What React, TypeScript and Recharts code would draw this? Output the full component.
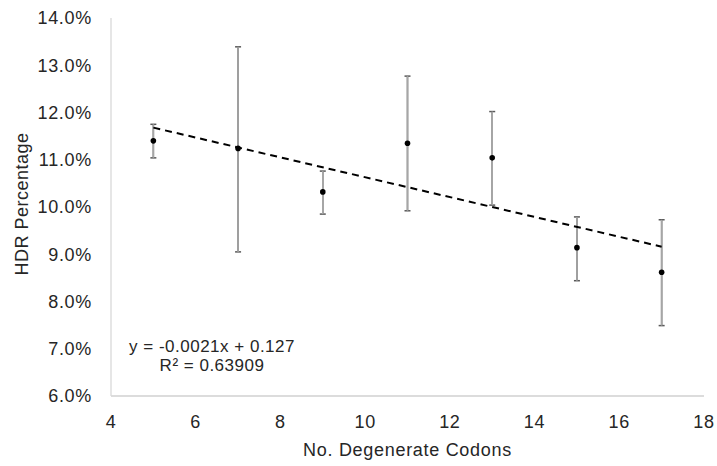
import React from 'react';
import { ComposedChart, Scatter, XAxis, YAxis, ErrorBar } from 'recharts';

const codons = [5, 7, 9, 11, 13, 15, 17];
const hdrMean = [11.4, 11.24, 10.32, 11.35, 11.04, 9.14, 8.62];
const hdrLow = [11.04, 9.05, 9.85, 9.92, 10.04, 8.44, 7.49];
const hdrHigh = [11.75, 13.39, 10.76, 12.77, 12.02, 9.79, 9.73];
const trendX = [5, 17];
const trendY = [11.68, 9.16];
const xTicks = [4, 6, 8, 10, 12, 14, 16, 18];
const yTicks = [6, 7, 8, 9, 10, 11, 12, 13, 14];
const xLabel = 'No. Degenerate Codons';
const yLabel = 'HDR Percentage';
const eqLine1 = 'y = -0.0021x + 0.127';
const eqLine2 = 'R² = 0.63909';

const points = codons.map((x, i) => ({
  x,
  y: hdrMean[i],
  err: [hdrMean[i] - hdrLow[i], hdrHigh[i] - hdrMean[i]],
}));
const trend = trendX.map((x, i) => ({ x, y: trendY[i] }));

const FONT = '"Liberation Sans", Arial, Helvetica, sans-serif';
const tickStyle = { fill: '#262626', fontSize: 18, fontFamily: FONT, letterSpacing: 0.7 };

const Dot = (props: any) => {
  const { cx, cy } = props;
  if (cx == null || cy == null) return <g />;
  return <circle cx={cx} cy={cy} r={2.8} fill="#000" />;
};

export default function App() {
  return (
    <div style={{ position: 'absolute', left: 0, top: 0, width: 717, height: 466, background: '#fff', fontFamily: FONT }}>
      <ComposedChart width={717} height={466} margin={{ top: 18, right: 13, bottom: 30, left: 21 }}>
        <XAxis
          type="number"
          dataKey="x"
          domain={[4, 18]}
          ticks={xTicks}
          tickLine={false}
          tickMargin={13}
          axisLine={{ stroke: '#d0d0d0', strokeWidth: 1.3 }}
          tick={tickStyle}
          height={40}
          allowDataOverflow
        />
        <YAxis
          type="number"
          dataKey="y"
          domain={[6, 14]}
          ticks={yTicks}
          tickLine={false}
          tickMargin={13}
          axisLine={{ stroke: '#d9d9d9', strokeWidth: 1.3 }}
          tick={tickStyle}
          width={90}
          tickFormatter={(v: number) => `${v.toFixed(1)}%`}
          allowDataOverflow
        />
        <Scatter
          data={trend}
          line={{ stroke: '#000', strokeWidth: 2, strokeDasharray: '7 5' }}
          shape={() => <g />}
          isAnimationActive={false}
        />
        <Scatter data={points} shape={Dot} isAnimationActive={false}>
          <ErrorBar dataKey="err" direction="y" width={3} stroke="#595959" strokeWidth={1.5} isAnimationActive={false} />
          <ErrorBar dataKey="err" direction="y" width={0} stroke="#a6a6a6" strokeWidth={1.6} isAnimationActive={false} />
        </Scatter>
      </ComposedChart>
      <div
        style={{
          position: 'absolute',
          left: 22,
          top: 204,
          transform: 'translate(-50%, -50%) rotate(-90deg)',
          whiteSpace: 'nowrap',
          fontSize: 18,
          letterSpacing: 0.5,
          color: '#262626',
          lineHeight: '20px',
        }}
      >
        {yLabel}
      </div>
      <div
        style={{
          position: 'absolute',
          left: 407.5,
          top: 450,
          transform: 'translate(-50%, -50%)',
          whiteSpace: 'nowrap',
          fontSize: 18,
          letterSpacing: 0.7,
          color: '#262626',
          lineHeight: '20px',
        }}
      >
        {xLabel}
      </div>
      <div
        style={{
          position: 'absolute',
          left: 212,
          top: 356,
          transform: 'translate(-50%, -50%)',
          whiteSpace: 'nowrap',
          fontSize: 17,
          letterSpacing: 0.5,
          color: '#262626',
          lineHeight: '19px',
          textAlign: 'center',
        }}
      >
        <div>{eqLine1}</div>
        <div>{eqLine2}</div>
      </div>
    </div>
  );
}
